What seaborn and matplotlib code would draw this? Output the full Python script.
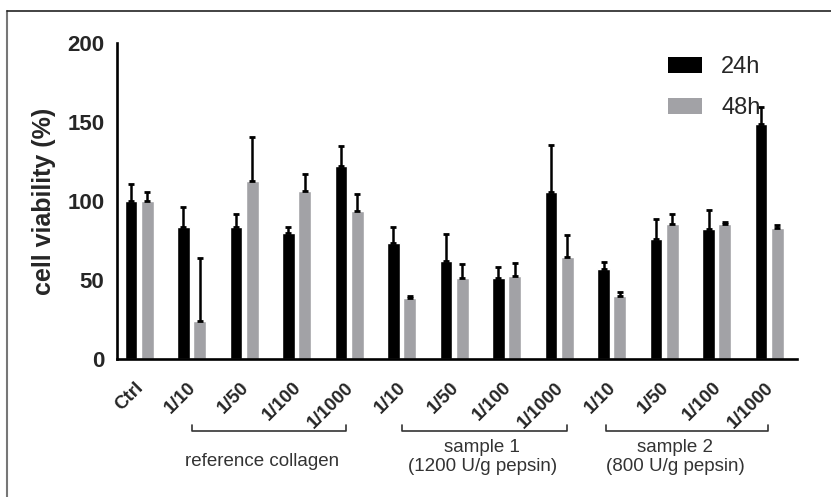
import matplotlib
matplotlib.use("Agg")
import matplotlib.pyplot as plt
import matplotlib.transforms as mtransforms
import seaborn as sns
import pandas as pd
import numpy as np
from matplotlib.lines import Line2D
from matplotlib.patches import Patch

# ---- data ----
keys = ["Ctrl", "R 1/10", "R 1/50", "R 1/100", "R 1/1000",
        "S1 1/10", "S1 1/50", "S1 1/100", "S1 1/1000",
        "S2 1/10", "S2 1/50", "S2 1/100", "S2 1/1000"]
tick_labels = ["Ctrl", "1/10", "1/50", "1/100", "1/1000",
               "1/10", "1/50", "1/100", "1/1000",
               "1/10", "1/50", "1/100", "1/1000"]
mean_24h = [100, 83.5, 83.5, 79.5, 122, 73.5, 62, 51.5, 105.5, 57, 76, 82, 149]
err_24h = [11, 12.5, 8.5, 4, 12.5, 10, 17, 7, 30, 4.5, 12.5, 12.5, 10.5]
mean_48h = [100, 24, 112.5, 106.5, 93.5, 38.5, 51, 52.5, 64.5, 40, 85.5, 85.5, 83]
err_48h = [6, 40, 28, 10.5, 11, 1.5, 9, 8.5, 14, 2.5, 6, 1, 1.5]
series = ["24h", "48h"]
group_names = ["reference collagen", "sample 1\n(1200 U/g pepsin)", "sample 2\n(800 U/g pepsin)"]
group_spans = [(1, 4), (5, 8), (9, 12)]

colors = {"24h": "#000000", "48h": "#a2a2a6"}

df = pd.DataFrame({
    "cond": keys * 2,
    "time": ["24h"] * len(keys) + ["48h"] * len(keys),
    "val": mean_24h + mean_48h,
})
errs = {"24h": err_24h, "48h": err_48h}

sns.set_style("white")
plt.rcParams["font.family"] = ["Liberation Sans", "DejaVu Sans"]

fig = plt.figure(figsize=(8.31, 4.97), dpi=100)
ax = fig.add_axes([117 / 831, 1 - 359 / 497, 680 / 831, 316 / 497])

sns.barplot(data=df, x="cond", y="val", hue="time", order=keys, hue_order=series,
            palette=colors, width=0.62, gap=0.22, errorbar=None, ax=ax,
            saturation=1, legend=False)

for cont, s in zip(ax.containers, series):
    xs = [b.get_x() + b.get_width() / 2 for b in cont]
    hs = [b.get_height() for b in cont]
    e = np.array(errs[s])
    ax.errorbar(xs, hs, yerr=[np.zeros_like(e), e], fmt="none", ecolor="black",
                elinewidth=1.8, capsize=2.5, capthick=2.0, zorder=3)

ax.set_ylim(0, 200)
ax.set_xlim(-0.42, 12.53)
ax.set_yticks([0, 50, 100, 150, 200])
ax.set_yticklabels(["0", "50", "100", "150", "200"], fontsize=16, fontweight="bold")
ax.set_xticks(range(len(keys)))
ax.set_xticklabels([""] * len(keys))
ax.set_xlabel("")
ax.set_ylabel("cell viability (%)", fontsize=18, fontweight="bold")
ax.yaxis.label.set_va("center")
ax.yaxis.set_label_coords(-0.108, 0.5)
ax.tick_params(axis="both", direction="out", length=7, width=1.8, color="black")
ax.tick_params(axis="y", pad=2)
for side in ["top", "right"]:
    ax.spines[side].set_visible(False)
for side in ["left", "bottom"]:
    ax.spines[side].set_linewidth(1.9)
    ax.spines[side].set_color("black")

# rotated category labels
trans = ax.get_xaxis_transform()
lab_tr = trans + mtransforms.ScaledTranslation(2 / 100, -26 / 100, fig.dpi_scale_trans)
for i, lab in enumerate(tick_labels):
    ax.text(i, 0, lab, transform=lab_tr, rotation=45, rotation_mode="anchor",
            ha="right", va="center", fontsize=13.5, fontweight="bold", clip_on=False)

# legend
handles = [Patch(facecolor=colors[s], edgecolor="none", label=s) for s in series]
ax.legend(handles=handles, loc="upper left", bbox_to_anchor=(0.779, 1.025),
          frameon=False, fontsize=17, handlelength=1.45, handleheight=0.7,
          handletextpad=0.8, labelspacing=0.8)

# group brackets
ybr = -(431 - 359) / 316
ytk = -(425 - 359) / 316
bracket_pad = [(0.0, -0.06), (0.0, 0.15), (-0.1, -0.02)]
for (i0, i1), (p0, p1) in zip(group_spans, bracket_pad):
    x0, x1 = i0 + p0, i1 + p1
    ax.add_line(Line2D([x0, x0, x1, x1], [ytk, ybr, ybr, ytk], transform=trans,
                       color="#333333", lw=1.2, clip_on=False))
centers = [(262 - 139) / 52.5, (482 - 139) / 52.5, (675 - 139) / 52.5]
ytext = [-(462 - 359) / 316, -(457 - 359) / 316, -(457 - 359) / 316]
for c, yt, name in zip(centers, ytext, group_names):
    ax.text(c, yt, name, transform=trans, ha="center", va="center",
            fontsize=13.5, color="#333333", linespacing=1.15)

# outer frame lines (left and top)
fig.add_artist(Line2D([7 / 831, 7 / 831], [0, 1 - 11 / 497], transform=fig.transFigure,
                      color="#777777", lw=1.5))
fig.add_artist(Line2D([7 / 831, 1], [1 - 11 / 497, 1 - 11 / 497], transform=fig.transFigure,
                      color="#222222", lw=1.2))

fig.savefig("out.png", dpi=100)
